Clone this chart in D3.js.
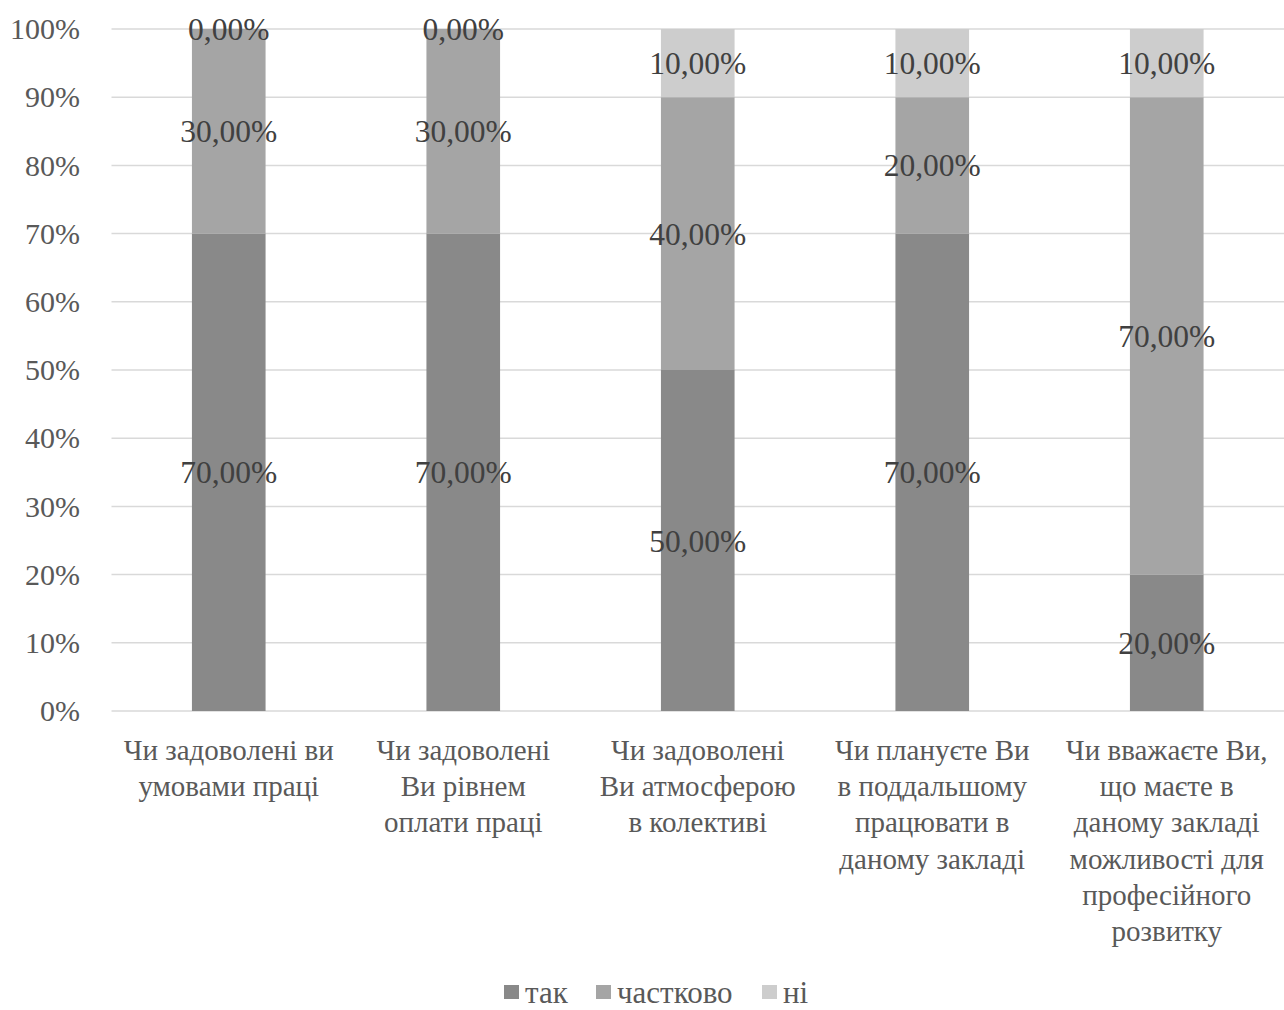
<!DOCTYPE html>
<html>
<head>
<meta charset="utf-8">
<script src="https://cdn.jsdelivr.net/npm/d3@7"></script>
<style>
  html, body { margin: 0; padding: 0; background: #fff; }
  svg text { font-family: "Liberation Serif", "Times New Roman", serif; }
</style>
</head>
<body>
<svg id="chart" width="1284" height="1010"></svg>
<script>
// Survey questions (category axis), one line per array entry
const categories = [
  ["Чи задоволені ви", "умовами праці"],
  ["Чи задоволені", "Ви рівнем", "оплати праці"],
  ["Чи задоволені", "Ви атмосферою", "в колективі"],
  ["Чи плануєте Ви", "в поддальшому", "працювати в", "даному закладі"],
  ["Чи вважаєте Ви,", "що маєте в", "даному закладі", "можливості для", "професійного", "розвитку"]
];

// Answer shares, percent
const seriesNames = ["так", "частково", "ні"];
const yesValues = [70, 70, 50, 70, 20];
const partlyValues = [30, 30, 40, 20, 70];
const noValues = [0, 0, 10, 10, 10];

const yTicks = [0, 10, 20, 30, 40, 50, 60, 70, 80, 90, 100];
const colors = ["#898989", "#a5a5a5", "#cdcdcd"];

const svg = d3.select("#chart");
const margin = { left: 111.5, right: 0 };
const W = 1284;

const x = d3.scaleBand()
  .domain(d3.range(categories.length))
  .range([margin.left, W - margin.right])
  .paddingInner(0.686)
  .paddingOuter(0.343);

const y = d3.scaleLinear().domain([0, 100]).range([711, 29]);

const rows = categories.map((c, i) => ({
  i, "так": yesValues[i], "частково": partlyValues[i], "ні": noValues[i]
}));
const stacked = d3.stack().keys(seriesNames)(rows);

// Gridlines
svg.append("g")
  .selectAll("line")
  .data(yTicks)
  .join("line")
  .attr("x1", margin.left).attr("x2", W)
  .attr("y1", d => y(d)).attr("y2", d => y(d))
  .attr("stroke", "#d9d9d9").attr("stroke-width", 1.5);

// Y axis labels
const yAxis = d3.axisLeft(y).tickValues(yTicks).tickFormat(d => d + "%").tickSize(0).tickPadding(0);
const gy = svg.append("g").attr("transform", "translate(80,0)").call(yAxis);
gy.select(".domain").remove();
gy.selectAll("text")
  .attr("fill", "#595959")
  .style("font-size", "30px")
  .style("font-family", "Liberation Serif, serif");

// Bars
svg.append("g")
  .selectAll("g")
  .data(stacked)
  .join("g")
  .attr("fill", (d, k) => colors[k])
  .selectAll("rect")
  .data(d => d)
  .join("rect")
  .attr("x", d => x(d.data.i))
  .attr("width", x.bandwidth())
  .attr("y", d => y(d[1]))
  .attr("height", d => y(d[0]) - y(d[1]));

// Data labels, centred in each segment
const fmt = v => v.toFixed(2).replace(".", ",") + "%";
svg.append("g")
  .selectAll("g")
  .data(stacked)
  .join("g")
  .selectAll("text")
  .data(d => d.map(p => ({ p, v: p[1] - p[0] })))
  .join("text")
  .attr("x", d => x(d.p.data.i) + x.bandwidth() / 2)
  .attr("y", d => y((d.p[0] + d.p[1]) / 2))
  .attr("dy", "0.35em")
  .attr("text-anchor", "middle")
  .attr("fill", "#404040")
  .style("font-size", "31.5px")
  .text(d => fmt(d.v));

// Category labels
const cat = svg.append("g")
  .selectAll("text")
  .data(categories)
  .join("text")
  .attr("x", (d, i) => x(i) + x.bandwidth() / 2)
  .attr("y", 760)
  .attr("text-anchor", "middle")
  .attr("fill", "#595959")
  .style("font-size", "29px");
cat.selectAll("tspan")
  .data(d => d)
  .join("tspan")
  .attr("x", function () { return this.parentNode.getAttribute("x"); })
  .attr("dy", (d, j) => j === 0 ? 0 : 36.2)
  .text(d => d);

// Legend
const legendItems = [
  { name: seriesNames[0], x: 504 },
  { name: seriesNames[1], x: 596 },
  { name: seriesNames[2], x: 762 }
];
const lg = svg.append("g")
  .selectAll("g")
  .data(legendItems)
  .join("g")
  .attr("transform", d => `translate(${d.x},985)`);
lg.append("rect")
  .attr("width", 15).attr("height", 14)
  .attr("fill", (d, k) => colors[k]);
lg.append("text")
  .attr("x", 21).attr("y", 18)
  .attr("fill", "#595959")
  .style("font-size", "31px")
  .text(d => d.name);
</script>
</body>
</html>
